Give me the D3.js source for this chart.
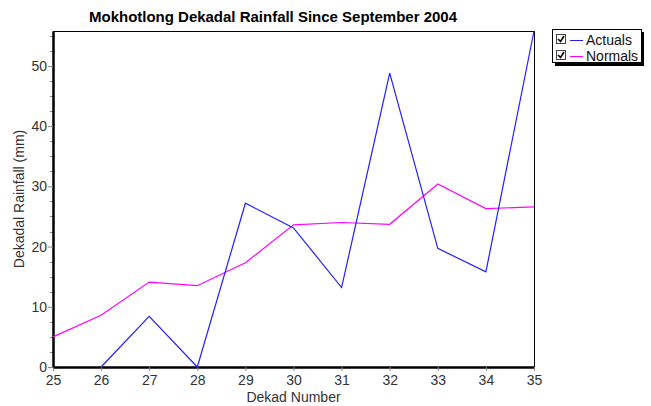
<!DOCTYPE html>
<html>
<head>
<meta charset="utf-8">
<script src="https://cdn.jsdelivr.net/npm/d3@7"></script>
<style>
  body { margin: 0; background: #fff; }
  text { font-family: "Liberation Sans", Arial, sans-serif; }
</style>
</head>
<body>
<svg></svg>
<script>
// chart data
let dekads = [25, 26, 27, 28, 29, 30, 31, 32, 33, 34, 35];
let actuals = [null, 0, 8.4, 0, 27.2, 23.1, 13.2, 48.8, 19.7, 15.8, 55.8];
let normals = [5.0, 8.6, 14.1, 13.5, 17.3, 23.6, 24.0, 23.7, 30.4, 26.3, 26.6];
let yTicks = [0, 10, 20, 30, 40, 50];
let seriesNames = ['Actuals', 'Normals'];

let width = 651;
let height = 406;
let plotLeft = 53, plotRight = 534, plotTop = 31, plotBottom = 367;

let svg = d3.select('svg').attr('width', width).attr('height', height);

let xScale = d3.scaleLinear().domain([25, 35]).range([plotLeft, plotRight]);
let yScale = d3.scaleLinear().domain([0, 55.8]).range([plotBottom, plotTop]);

// frame
svg.append('rect')
   .attr('x', plotLeft + 0.5).attr('y', plotTop + 0.5)
   .attr('width', plotRight - plotLeft).attr('height', plotBottom - plotTop)
   .attr('fill', 'none').attr('stroke', '#000').attr('stroke-width', 1);

// minor y ticks
let minor = d3.range(0, 55.8, 2.5).filter(v => v % 10 !== 0);
svg.append('g').selectAll('line').data(minor).enter().append('line')
   .attr('x1', plotLeft - 3).attr('x2', plotLeft)
   .attr('y1', d => Math.round(yScale(d)) + 0.5).attr('y2', d => Math.round(yScale(d)) + 0.5)
   .attr('stroke', '#888');

let xAxis = d3.axisBottom(xScale).tickValues(dekads).tickSize(4).tickSizeOuter(0).tickFormat(d3.format('d'));
let yAxis = d3.axisLeft(yScale).tickValues(yTicks).tickSize(5).tickSizeOuter(0);

let gx = svg.append('g').attr('transform', 'translate(0,' + plotBottom + ')').call(xAxis);
let gy = svg.append('g').attr('transform', 'translate(' + plotLeft + ',0)').call(yAxis);
[gx, gy].forEach(g => {
  g.select('.domain').attr('stroke', '#000').attr('stroke-width', 2.5);
  g.selectAll('.tick line').attr('stroke', '#888');
  g.selectAll('.tick text').attr('font-size', 14).attr('fill', '#333')
   .style('font-family', '"Liberation Sans", Arial, sans-serif');
});
gx.selectAll('.tick text').attr('dy', '0.75em').attr('y', 7);
gy.selectAll('.tick text').attr('x', -6);

// lines
let line = d3.line()
  .defined(d => d[1] !== null)
  .x(d => xScale(d[0]))
  .y(d => yScale(d[1]));

svg.append('path')
   .datum(dekads.map((d, i) => [d, normals[i]]))
   .attr('d', line).attr('fill', 'none').attr('stroke', '#ff00ff').attr('stroke-width', 1.2);
svg.append('path')
   .datum(dekads.map((d, i) => [d, actuals[i]]))
   .attr('d', line).attr('fill', 'none').attr('stroke', '#2020ff').attr('stroke-width', 1.2);

// titles
svg.append('text').attr('x', 273).attr('y', 22).attr('text-anchor', 'middle')
   .attr('font-size', 15).attr('font-weight', 'bold').attr('textLength', 368)
   .text('Mokhotlong Dekadal Rainfall Since September 2004');
svg.append('text').attr('x', (plotLeft + plotRight) / 2).attr('y', 402).attr('text-anchor', 'middle')
   .attr('font-size', 14).attr('fill', '#333').text('Dekad Number');
svg.append('text').attr('transform', 'translate(24,' + ((plotTop + plotBottom) / 2) + ') rotate(-90)')
   .attr('text-anchor', 'middle').attr('font-size', 14).attr('fill', '#333').text('Dekadal Rainfall (mm)');

// legend
let lg = svg.append('g');
lg.append('rect').attr('x', 555).attr('y', 32).attr('width', 89).attr('height', 34).attr('fill', '#000');
lg.append('rect').attr('x', 552.5).attr('y', 29.5).attr('width', 89).attr('height', 33)
  .attr('fill', '#fff').attr('stroke', '#000');
let colors = ['#2020ff', '#ff00ff'];
seriesNames.forEach((name, i) => {
  let y = 40 + i * 16;
  lg.append('rect').attr('x', 556.5).attr('y', y - 5.5).attr('width', 9).attr('height', 9)
    .attr('fill', '#fff').attr('stroke', '#444');
  lg.append('path').attr('d', `M558,${y - 1} L560.5,${y + 1.5} L564,${y - 4}`)
    .attr('fill', 'none').attr('stroke', '#000').attr('stroke-width', 1.6);
  lg.append('line').attr('x1', 570).attr('x2', 583).attr('y1', y + 0.5).attr('y2', y + 0.5)
    .attr('stroke', colors[i]);
  lg.append('text').attr('x', 586).attr('y', y + 5).attr('font-size', 14).attr('fill', '#111').text(name);
});
</script>
</body>
</html>
